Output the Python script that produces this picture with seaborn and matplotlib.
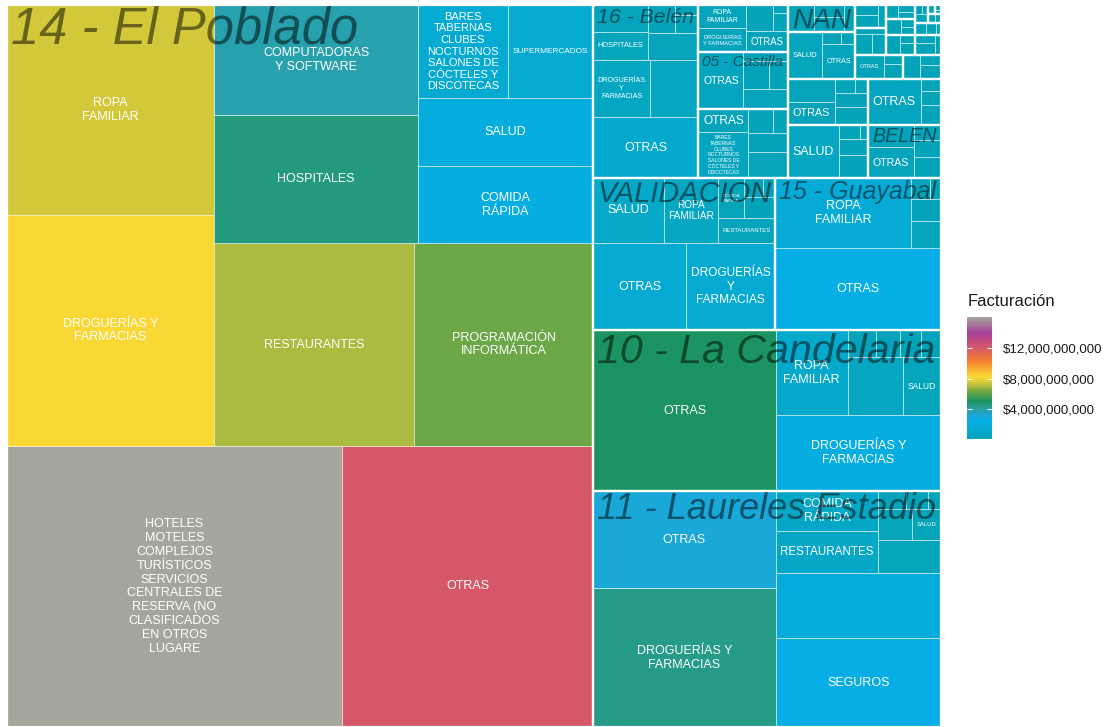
import textwrap
import matplotlib
matplotlib.use("Agg")
import matplotlib.pyplot as plt
import seaborn as sns
import pandas as pd
from matplotlib.colors import LinearSegmentedColormap, Normalize
from matplotlib.patches import Rectangle
from matplotlib.cm import ScalarMappable
from matplotlib.ticker import FuncFormatter

# Facturación por comuna y actividad (miles de millones de pesos)
comunas = [
    "14 - El Poblado", "11 - Laureles Estadio", "10 - La Candelaria", "VALIDACION",
    "15 - Guayabal", "16 - Belén", "", "05 - Castilla", "", "", "BELEN", "", "", "",
    "NAN", "", "", "", "", "", "", "", "", "", "", "", "", "",
]

actividades = [
    ["HOTELES MOTELES COMPLEJOS TURÍSTICOS SERVICIOS CENTRALES DE RESERVA (NO CLASIFICADOS EN OTROS LUGARE",
     "OTRAS", "DROGUERÍAS Y FARMACIAS", "ROPA FAMILIAR", "RESTAURANTES", "PROGRAMACIÓN INFORMÁTICA",
     "HOSPITALES", "COMPUTADORAS Y SOFTWARE", "COMIDA RÁPIDA", "SALUD",
     "BARES TABERNAS CLUBES NOCTURNOS SALONES DE CÓCTELES Y DISCOTECAS", "SUPERMERCADOS"],
    ["DROGUERÍAS Y FARMACIAS", "OTRAS", "SEGUROS", "", "RESTAURANTES", "COMIDA RÁPIDA",
     "", "", "SALUD", "", "", ""],
    ["OTRAS", "DROGUERÍAS Y FARMACIAS", "ROPA FAMILIAR", "", "SALUD", "", "", "", ""],
    ["OTRAS", "DROGUERÍAS Y FARMACIAS", "SALUD", "ROPA FAMILIAR", "RESTAURANTES", "COMIDA RÁPIDA",
     "", "", ""],
    ["OTRAS", "ROPA FAMILIAR", "", "", "", ""],
    ["OTRAS", "DROGUERÍAS Y FARMACIAS", "", "HOSPITALES", "", "", "", "", ""],
    ["BARES TABERNAS CLUBES NOCTURNOS SALONES DE CÓCTELES Y DISCOTECAS", "OTRAS", "", "", "", ""],
    ["OTRAS", "", "", "", ""],
    ["DROGUERÍAS Y FARMACIAS", "ROPA FAMILIAR", "OTRAS", "", "", ""],
    ["SALUD", "", "", "", ""],
    ["OTRAS", "", "", "", ""],
    ["OTRAS", "", "", "", "", ""],
    ["OTRAS", "", "", ""],
    ["SALUD", "OTRAS", "", ""],
    ["", "", "", ""],
    ["OTRAS", "", ""], ["", "", ""], ["", "", ""], ["", "", ""], ["", "", ""], ["", "", ""],
    ["", "", ""], ["", "", ""], ["", "", ""], ["", "", ""], ["", ""], [""], ["", ""],
]

facturacion = [
    [16.15, 12.10, 8.20, 7.46, 6.96, 6.23, 4.48, 3.85, 2.31, 2.04, 1.44, 1.36],
    [4.34, 3.06, 2.51, 1.85, 0.74, 0.71, 0.36, 0.18, 0.15, 0.09, 0.07, 0.04],
    [5.02, 2.15, 1.04, 0.55, 0.37, 0.13, 0.11, 0.10, 0.09],
    [1.40, 1.34, 0.78, 0.60, 0.24, 0.18, 0.11, 0.06, 0.04],
    [2.36, 1.61, 0.14, 0.11, 0.07, 0.04],
    [1.10, 0.56, 0.47, 0.27, 0.25, 0.24, 0.13, 0.07, 0.04],
    [0.40, 0.19, 0.18, 0.13, 0.10, 0.06],
    [0.44, 0.16, 0.12, 0.09, 0.07],
    [0.20, 0.19, 0.15, 0.12, 0.05, 0.02],
    [0.46, 0.12, 0.08, 0.05, 0.02],
    [0.24, 0.17, 0.10, 0.08, 0.07],
    [0.19, 0.18, 0.10, 0.08, 0.05, 0.03],
    [0.42, 0.07, 0.05, 0.04],
    [0.27, 0.20, 0.04, 0.03],
    [0.12, 0.08, 0.06, 0.05],
    [0.12, 0.05, 0.03], [0.07, 0.05, 0.04], [0.06, 0.05, 0.03], [0.05, 0.04, 0.03],
    [0.05, 0.03, 0.02], [0.04, 0.03, 0.02], [0.04, 0.02, 0.02], [0.03, 0.02, 0.02],
    [0.02, 0.02, 0.01], [0.02, 0.01, 0.01], [0.01, 0.01], [0.01], [0.005, 0.005],
]

# escala de color (posición relativa en el rango, color)
escala = [
    (0.00, "#05A3B8"), (0.05, "#05A8C8"), (0.15, "#05AEE6"), (0.19, "#1AA8D6"),
    (0.24, "#2AA0AA"), (0.275, "#249A7E"), (0.31, "#1B9461"), (0.39, "#72A845"),
    (0.43, "#A8BA40"), (0.46, "#CFC73A"), (0.51, "#FDD835"), (0.64, "#F38030"),
    (0.75, "#D65868"), (0.87, "#A8409A"), (1.00, "#A6A59C"),
]

filas = []
for g, (c, acts, vals) in enumerate(zip(comunas, actividades, facturacion)):
    for a, v in zip(acts, vals):
        filas.append({"grupo": g, "comuna": c, "actividad": a, "valor": v * 1e9})
df = pd.DataFrame(filas)


def peor(fila, lado):
    s = sum(fila)
    return max(max(lado ** 2 * r / s ** 2, s ** 2 / (lado ** 2 * r)) for r in fila)


def squarify(areas, x, y, w, h):
    """Treemap squarificado (filas desde abajo a la izquierda)."""
    rects = []
    i = 0
    while i < len(areas):
        lado = min(w, h)
        fila = [areas[i]]
        j = i + 1
        while j < len(areas) and peor(fila + [areas[j]], lado) <= peor(fila, lado):
            fila.append(areas[j])
            j += 1
        s = sum(fila)
        if w >= h:
            cw = s / h
            yy = y
            for a in fila:
                rects.append((x, yy, cw, a / cw))
                yy += a / cw
            x += cw
            w -= cw
        else:
            rh = s / w
            xx = x
            for a in fila:
                rects.append((xx, y, a / rh, rh))
                xx += a / rh
            y += rh
            h -= rh
        i = j
    return rects


sns.set_theme(style="white")
plt.rcParams["font.family"] = ["Liberation Sans", "DejaVu Sans"]

cmap = LinearSegmentedColormap.from_list("facturacion", escala)
norm = Normalize(vmin=df["valor"].min(), vmax=df["valor"].max())

W, H = 1104, 727
fig = plt.figure(figsize=(W / 100, H / 100), dpi=100)
PX_W, PX_H = 934, 722
ax = fig.add_axes([7 / W, 0, PX_W / W, PX_H / H])
ax.set_xlim(0, 1)
ax.set_ylim(0, 1)
ax.axis("off")
renderer = fig.canvas.get_renderer()

total = df["valor"].sum()
grupos = df.groupby("grupo")["valor"].sum().sort_values(ascending=False, kind="stable")
rect_grupos = squarify(list(grupos.values / total), 0, 0, 1, 1)


def medir(texto, size, **kw):
    t = ax.text(0, 0, texto, fontsize=size, **kw)
    bb = t.get_window_extent(renderer)
    t.remove()
    return bb.width, bb.height


etiquetas = []
for g, (gx, gy, gw, gh) in zip(grupos.index, rect_grupos):
    sub = df[df["grupo"] == g].sort_values("valor", ascending=False, kind="stable")
    areas = list(sub["valor"] / sub["valor"].sum() * gw * gh)
    for (x, y, w, h), (_, r) in zip(squarify(areas, gx, gy, gw, gh), sub.iterrows()):
        ax.add_patch(Rectangle((x, y), w, h, facecolor=cmap(norm(r["valor"])),
                               edgecolor=(1, 1, 1, 0.55), lw=0.6, zorder=1))
        if r["actividad"]:
            etiquetas.append((r["actividad"], x, y, w, h))
    ax.add_patch(Rectangle((gx, gy), gw, gh, fill=False, edgecolor="white", lw=1.6, zorder=3))

    # etiqueta de la comuna, arriba a la izquierda
    nombre = sub["comuna"].iloc[0]
    if nombre:
        pad = 4
        tw, _ = medir(nombre, 10, style="italic")
        bw, bh = gw * PX_W, gh * PX_H
        size = min(36.5, 10 * (bw - 2 * pad) / tw, (bh - 3) / (0.72 * 100 / 72))
        size_px = size * 100 / 72
        if size >= 4:
            ax.text(gx + pad / PX_W, gy + gh - (2.5 + 0.72 * size_px) / PX_H, nombre,
                    fontsize=size, style="italic", color="black", alpha=0.5,
                    ha="left", va="baseline", zorder=5)

# etiquetas de actividad, centradas y ajustadas a la celda
for texto, x, y, w, h in etiquetas:
    pad = 4.5
    bw, bh = w * PX_W - 2 * pad, h * PX_H - 2 * pad
    if bw <= 0 or bh <= 0:
        continue
    mejor = None
    for ancho in range(12, 0, -1):
        envuelto = "\n".join(textwrap.wrap(texto, ancho, break_long_words=False))
        tw, th = medir(envuelto, 9, linespacing=1.2)
        escala_t = min(1.0, bw / tw, bh / th)
        if mejor is None or escala_t >= mejor[0] - 1e-6:
            mejor = (escala_t, envuelto)
        if escala_t >= 1:
            break
    size = 9 * mejor[0]
    if size < 3:
        continue
    ax.text(x + w / 2, y + h / 2, mejor[1], fontsize=size, color="white",
            ha="center", va="center", linespacing=1.2, zorder=4)

# leyenda de color
cax = fig.add_axes([967 / W, (H - 439) / H, 25 / W, 122 / H])
cb = fig.colorbar(ScalarMappable(norm=norm, cmap=cmap), cax=cax)
cb.outline.set_visible(False)
ticks = [4e9, 8e9, 12e9]
cb.set_ticks(ticks)
cb.ax.yaxis.set_major_formatter(FuncFormatter(lambda v, p: f"${v:,.0f}"))
cb.ax.tick_params(length=0, pad=8, labelsize=9.5, labelcolor="#1a1a1a")
cax.hlines(ticks, 0, 0.2, colors="white", lw=0.8)
cax.hlines(ticks, 0.8, 1.0, colors="white", lw=0.8)
fig.text(968 / W, 1 - 301 / H, "Facturación", fontsize=12, color="#1a1a1a",
         ha="left", va="center")

fig.savefig("out.png", dpi=100)
